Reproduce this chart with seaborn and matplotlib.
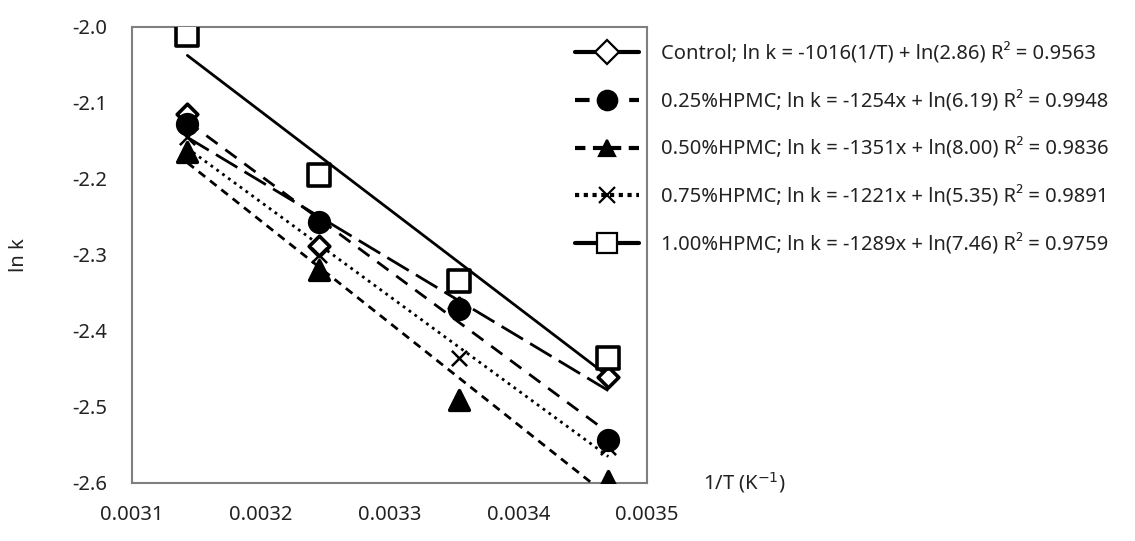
import matplotlib
matplotlib.use("Agg")
import matplotlib.pyplot as plt
from matplotlib.lines import Line2D
import seaborn as sns
import numpy as np

sns.set_theme(style="white")
plt.rcParams['font.family'] = ['Noto Sans', 'DejaVu Sans']

# 1/T values (K^-1) for 45, 35, 25, 15 °C
inv_T = [0.003143, 0.003245, 0.003354, 0.003470]

series_names = ["Control", "0.25%HPMC", "0.50%HPMC", "0.75%HPMC", "1.00%HPMC"]
lnk_control = [-2.115, -2.288, -2.370, -2.460]
lnk_025 = [-2.128, -2.256, -2.371, -2.544]
lnk_050 = [-2.165, -2.320, -2.491, -2.597]
lnk_075 = [-2.145, -2.300, -2.435, -2.552]
lnk_100 = [-2.011, -2.195, -2.334, -2.436]

legend_labels = [
    "Control; ln k = -1016(1/T) + ln(2.86) R² = 0.9563",
    "0.25%HPMC; ln k = -1254x + ln(6.19) R² = 0.9948",
    "0.50%HPMC; ln k = -1351x + ln(8.00) R² = 0.9836",
    "0.75%HPMC; ln k = -1221x + ln(5.35) R² = 0.9891",
    "1.00%HPMC; ln k = -1289x + ln(7.46) R² = 0.9759",
]
x_ticks = [0.0031, 0.0032, 0.0033, 0.0034, 0.0035]
y_ticks = [-2.6, -2.5, -2.4, -2.3, -2.2, -2.1, -2.0]

data = [lnk_control, lnk_025, lnk_050, lnk_075, lnk_100]
markers = ["D", "o", "^", "x", "s"]
sizes = [110, 200, 200, 120, 230]
faces = ["white", "black", "black", "black", "white"]
trend_styles = [(0, (9, 3)), (0, (5, 3.5)), (0, (3, 2.2)), (0, (1, 1.6)), "-"]
legend_styles = ["-", (0, (3.5, 3)), (0, (2.5, 1.8)), (0, (1, 1.1)), "-"]

fig = plt.figure(figsize=(11.35, 5.41), dpi=100)
ax = fig.add_axes([132/1135, 1-483/541, (647-132)/1135, (483-27)/541])

for i in range(5):
    skw = {"s": sizes[i], "alpha": 1, "zorder": 5}
    if markers[i] == "x":
        skw.update(linewidths=1.8, color="black")
    else:
        skw.update(facecolors=faces[i], edgecolors="black", linewidths=2.6)
    sns.regplot(x=np.array(inv_T), y=np.array(data[i]), ax=ax, ci=None,
                marker=markers[i], color="black", truncate=True,
                scatter_kws=skw,
                line_kws={"ls": trend_styles[i], "lw": 2.0, "color": "black", "zorder": 3})

ax.set_xlim(0.0031, 0.0035)
ax.set_ylim(-2.6, -2.0)
ax.set_xticks(x_ticks)
ax.set_xticklabels([f"{v:.4f}" for v in x_ticks])
ax.set_yticks(y_ticks)
ax.set_yticklabels([f"{v:.1f}" for v in y_ticks])
for s in ax.spines.values():
    s.set_color("#7f7f7f")
    s.set_linewidth(1.5)
ax.tick_params(axis="both", direction="out", length=8, width=1.5, color="#555555",
               labelsize=14.5, labelcolor="#222222", pad=8)
ax.tick_params(axis="y", pad=10)

ax.set_ylabel("ln k", fontsize=14.5, color="#222222", labelpad=31)
ax.set_xlabel("1/T (K$^{-1}$)", fontsize=14.5, color="#222222")
ax.xaxis.set_label_coords(1.19, 0.0)
ax.xaxis.label.set_va("center")

handles = []
for i in range(5):
    ms = {"D": 12, "o": 14, "^": 12, "x": 11, "s": 14}[markers[i]]
    handles.append(Line2D([0], [0], color="black", lw=3.0, ls=legend_styles[i],
                          marker=markers[i], markersize=ms,
                          markerfacecolor=faces[i], markeredgecolor="black",
                          markeredgewidth=1.6))
leg = ax.legend(handles, legend_labels, loc="upper left", bbox_to_anchor=(0.86, 0.965),
                frameon=False, fontsize=14.5, handlelength=3.2, labelspacing=1.3,
                handletextpad=1.1, borderaxespad=0, borderpad=0)
for t in leg.get_texts():
    t.set_color("#222222")

fig.savefig("out.png", dpi=100)
